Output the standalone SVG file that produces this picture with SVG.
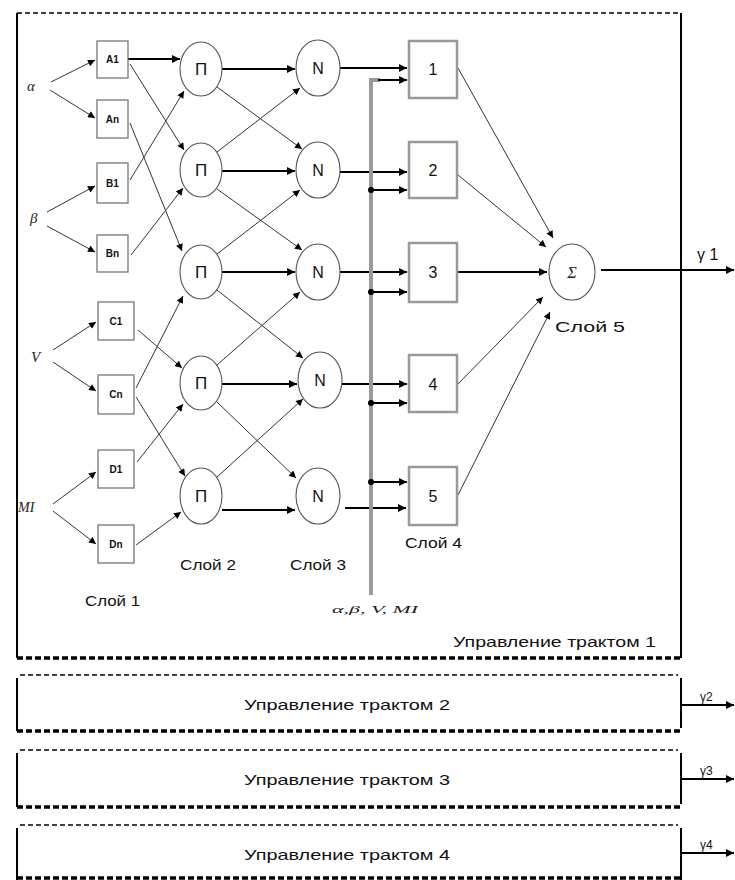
<svg xmlns="http://www.w3.org/2000/svg" width="735" height="880" viewBox="0 0 735 880">
<style>
.t{font-family:"Liberation Sans",Arial,sans-serif;fill:#111}
.g{font-family:"Liberation Serif","Times New Roman",serif;font-style:italic;fill:#222}
.thin{stroke:#333;stroke-width:1;fill:none}
.bold{stroke:#000;stroke-width:2;fill:none}
.dash{stroke:#000;stroke-width:1.5;stroke-dasharray:5 3;fill:none}
.dot{stroke:#000;stroke-width:3.5;stroke-dasharray:6 3;fill:none}
.side{stroke:#000;stroke-width:2;fill:none}
.b1{fill:#fff;stroke:#777;stroke-width:1.3}
.b4{fill:#fff;stroke:#999;stroke-width:2.5}
.c{fill:#fff;stroke:#555;stroke-width:1.1}
</style>
<defs>
<marker id="ah" viewBox="0 0 10 10" refX="10" refY="5" markerWidth="9" markerHeight="7" markerUnits="userSpaceOnUse" orient="auto"><path d="M0,0 L10,5 L0,10 z" fill="#000"/></marker>
<marker id="ahb" viewBox="0 0 10 10" refX="10" refY="5" markerWidth="11" markerHeight="8" markerUnits="userSpaceOnUse" orient="auto"><path d="M0,0 L10,5 L0,10 z" fill="#000"/></marker>
</defs>
<rect width="735" height="880" fill="#fff"/>

<!-- frames -->
<g id="frame1">
<line class="dash" x1="17" y1="13" x2="681" y2="13"/>
<line class="side" x1="17" y1="13" x2="17" y2="658"/>
<line class="side" x1="681" y1="13" x2="681" y2="658"/>
<line class="dot" x1="17" y1="658" x2="681" y2="658"/>
<text class="t" x="453" y="647" font-size="15" textLength="203" lengthAdjust="spacingAndGlyphs">Управление трактом 1</text>
</g>
<g id="frame2">
<line class="dash" x1="20" y1="675" x2="678" y2="675"/>
<line class="side" x1="17" y1="678" x2="17" y2="731"/>
<line class="side" x1="681" y1="678" x2="681" y2="728"/>
<line class="dot" x1="17" y1="731" x2="681" y2="731"/>
<text class="t" x="244" y="710" font-size="15" textLength="206" lengthAdjust="spacingAndGlyphs">Управление трактом 2</text>
</g>
<g id="frame3">
<line class="dash" x1="20" y1="750" x2="678" y2="750"/>
<line class="side" x1="17" y1="753" x2="17" y2="807"/>
<line class="side" x1="681" y1="753" x2="681" y2="804"/>
<line class="dot" x1="17" y1="807" x2="681" y2="807"/>
<text class="t" x="244" y="785" font-size="15" textLength="206" lengthAdjust="spacingAndGlyphs">Управление трактом 3</text>
</g>
<g id="frame4">
<line class="dash" x1="20" y1="825" x2="678" y2="825"/>
<line class="side" x1="17" y1="828" x2="17" y2="880"/>
<line class="side" x1="681" y1="828" x2="681" y2="880"/>
<line class="dot" x1="17" y1="878" x2="681" y2="878"/>
<text class="t" x="244" y="860" font-size="15" textLength="206" lengthAdjust="spacingAndGlyphs">Управление трактом 4</text>
</g>

<!-- connectors -->
<g id="connectors">
<line class="thin" x1="51" y1="82" x2="95" y2="60" marker-end="url(#ah)"/>
<line class="thin" x1="50" y1="90" x2="95" y2="118" marker-end="url(#ah)"/>
<line class="thin" x1="47" y1="212" x2="95" y2="186" marker-end="url(#ah)"/>
<line class="thin" x1="47" y1="226" x2="95" y2="252" marker-end="url(#ah)"/>
<line class="thin" x1="53" y1="350" x2="96" y2="322" marker-end="url(#ah)"/>
<line class="thin" x1="53" y1="362" x2="96" y2="391" marker-end="url(#ah)"/>
<line class="thin" x1="53" y1="504" x2="96" y2="472" marker-end="url(#ah)"/>
<line class="thin" x1="53" y1="511" x2="96" y2="544" marker-end="url(#ah)"/>
<line class="bold" x1="128" y1="59" x2="180" y2="59" marker-end="url(#ahb)"/>
<line class="thin" x1="130" y1="64" x2="184" y2="150" marker-end="url(#ah)"/>
<line class="thin" x1="130" y1="123" x2="182" y2="251" marker-end="url(#ah)"/>
<line class="thin" x1="130" y1="180" x2="184" y2="91" marker-end="url(#ah)"/>
<line class="thin" x1="131" y1="255" x2="183" y2="188" marker-end="url(#ah)"/>
<line class="thin" x1="136" y1="388" x2="183" y2="296" marker-end="url(#ah)"/>
<line class="thin" x1="138" y1="330" x2="182" y2="368" marker-end="url(#ah)"/>
<line class="thin" x1="136" y1="397" x2="185" y2="476" marker-end="url(#ah)"/>
<line class="thin" x1="137" y1="462" x2="183" y2="404" marker-end="url(#ah)"/>
<line class="thin" x1="136" y1="545" x2="181" y2="512" marker-end="url(#ah)"/>
<line class="bold" x1="222" y1="69" x2="295" y2="69" marker-end="url(#ahb)"/>
<line class="bold" x1="222" y1="171" x2="295" y2="171" marker-end="url(#ahb)"/>
<line class="bold" x1="222" y1="272" x2="295" y2="272" marker-end="url(#ahb)"/>
<line class="bold" x1="222" y1="384" x2="297" y2="384" marker-end="url(#ahb)"/>
<line class="bold" x1="222" y1="510" x2="295" y2="510" marker-end="url(#ahb)"/>
<line class="thin" x1="217" y1="87" x2="302" y2="149" marker-end="url(#ah)"/>
<line class="thin" x1="217" y1="152" x2="300" y2="88" marker-end="url(#ah)"/>
<line class="thin" x1="217" y1="189" x2="302" y2="250" marker-end="url(#ah)"/>
<line class="thin" x1="217" y1="254" x2="300" y2="190" marker-end="url(#ah)"/>
<line class="thin" x1="217" y1="290" x2="303" y2="358" marker-end="url(#ah)"/>
<line class="thin" x1="217" y1="365" x2="300" y2="292" marker-end="url(#ah)"/>
<line class="thin" x1="217" y1="402" x2="296" y2="478" marker-end="url(#ah)"/>
<line class="thin" x1="217" y1="477" x2="303" y2="399" marker-end="url(#ah)"/>
<line class="bold" x1="340" y1="68" x2="407" y2="68" marker-end="url(#ahb)"/>
<line class="bold" x1="340" y1="172" x2="407" y2="172" marker-end="url(#ahb)"/>
<line class="bold" x1="340" y1="272" x2="407" y2="272" marker-end="url(#ahb)"/>
<line class="bold" x1="342" y1="384" x2="407" y2="384" marker-end="url(#ahb)"/>
<line class="bold" x1="345" y1="508" x2="406" y2="508" marker-end="url(#ahb)"/>
<polyline points="371,595 371,80 380,80" fill="none" stroke="#9a9a9a" stroke-width="4"/>
<line class="bold" x1="378" y1="80" x2="407" y2="80" marker-end="url(#ahb)"/>
<line class="bold" x1="371" y1="190" x2="407" y2="190" marker-end="url(#ahb)"/>
<line class="bold" x1="371" y1="292" x2="407" y2="292" marker-end="url(#ahb)"/>
<line class="bold" x1="371" y1="403" x2="407" y2="403" marker-end="url(#ahb)"/>
<line class="bold" x1="371" y1="482" x2="407" y2="482" marker-end="url(#ahb)"/>
<circle cx="371" cy="190" r="3" fill="#000"/>
<circle cx="371" cy="292" r="3" fill="#000"/>
<circle cx="371" cy="403" r="3" fill="#000"/>
<circle cx="371" cy="482" r="3" fill="#000"/>
<line class="thin" x1="458" y1="68" x2="553" y2="238" marker-end="url(#ah)"/>
<line class="thin" x1="458" y1="175" x2="546" y2="247" marker-end="url(#ah)"/>
<line class="bold" x1="458" y1="272" x2="547" y2="272" marker-end="url(#ahb)"/>
<line class="thin" x1="458" y1="384" x2="543" y2="297" marker-end="url(#ah)"/>
<line class="thin" x1="458" y1="495" x2="550" y2="312" marker-end="url(#ah)"/>
<line class="bold" x1="601" y1="270" x2="734" y2="270" marker-end="url(#ahb)"/>
<line class="bold" x1="681" y1="705" x2="734" y2="705" marker-end="url(#ahb)"/>
<line class="bold" x1="681" y1="779" x2="734" y2="779" marker-end="url(#ahb)"/>
<line class="bold" x1="681" y1="853" x2="734" y2="853" marker-end="url(#ahb)"/>
</g>

<g id="inputs">
<text class="g" x="27" y="91" font-size="15">α</text>
<text class="g" x="30" y="223" font-size="15">β</text>
<text class="g" x="31" y="362" font-size="15">V</text>
<text class="g" x="18" y="512" font-size="14">MI</text>
<text class="g" x="332" y="613" font-size="11" textLength="86" lengthAdjust="spacingAndGlyphs">α,β, V, MI</text>
</g>

<g id="A1"><rect class="b1" x="97" y="41" width="31" height="37"/><text class="t" x="112.5" y="63" font-size="10" font-weight="bold" text-anchor="middle">A1</text></g>
<g id="An"><rect class="b1" x="97" y="100" width="31" height="38"/><text class="t" x="112.5" y="123" font-size="10" font-weight="bold" text-anchor="middle">An</text></g>
<g id="B1"><rect class="b1" x="97" y="163" width="31" height="40"/><text class="t" x="112.5" y="187" font-size="10" font-weight="bold" text-anchor="middle">B1</text></g>
<g id="Bn"><rect class="b1" x="97" y="235" width="31" height="37"/><text class="t" x="112.5" y="257" font-size="10" font-weight="bold" text-anchor="middle">Bn</text></g>
<g id="C1"><rect class="b1" x="98" y="302" width="36" height="38"/><text class="t" x="116" y="325" font-size="10" font-weight="bold" text-anchor="middle">C1</text></g>
<g id="Cn"><rect class="b1" x="98" y="375" width="36" height="39"/><text class="t" x="116" y="398" font-size="10" font-weight="bold" text-anchor="middle">Cn</text></g>
<g id="D1"><rect class="b1" x="98" y="450" width="36" height="38"/><text class="t" x="116" y="473" font-size="10" font-weight="bold" text-anchor="middle">D1</text></g>
<g id="Dn"><rect class="b1" x="98" y="525" width="36" height="38"/><text class="t" x="116" y="548" font-size="10" font-weight="bold" text-anchor="middle">Dn</text></g>

<g id="P1"><ellipse class="c" cx="201" cy="69" rx="21" ry="27"/><text class="t" x="201" y="75" font-size="17" text-anchor="middle">П</text></g>
<g id="P2"><ellipse class="c" cx="201" cy="170" rx="21" ry="27"/><text class="t" x="201" y="176" font-size="17" text-anchor="middle">П</text></g>
<g id="P3"><ellipse class="c" cx="201" cy="272" rx="21" ry="27"/><text class="t" x="201" y="278" font-size="17" text-anchor="middle">П</text></g>
<g id="P4"><ellipse class="c" cx="201" cy="383" rx="21" ry="27"/><text class="t" x="201" y="389" font-size="17" text-anchor="middle">П</text></g>
<g id="P5"><ellipse class="c" cx="201" cy="496" rx="21" ry="28"/><text class="t" x="201" y="502" font-size="17" text-anchor="middle">П</text></g>

<g id="N1"><ellipse class="c" cx="318" cy="68" rx="22" ry="28"/><text class="t" x="318" y="74" font-size="16" text-anchor="middle">N</text></g>
<g id="N2"><ellipse class="c" cx="318" cy="170" rx="22" ry="28"/><text class="t" x="318" y="176" font-size="16" text-anchor="middle">N</text></g>
<g id="N3"><ellipse class="c" cx="318" cy="272" rx="22" ry="28"/><text class="t" x="318" y="278" font-size="16" text-anchor="middle">N</text></g>
<g id="N4"><ellipse class="c" cx="320" cy="380" rx="22" ry="28"/><text class="t" x="320" y="386" font-size="16" text-anchor="middle">N</text></g>
<g id="N5"><ellipse class="c" cx="318" cy="496" rx="22" ry="28"/><text class="t" x="318" y="502" font-size="16" text-anchor="middle">N</text></g>

<g id="R1"><rect class="b4" x="409" y="41" width="48" height="57"/><text class="t" x="433" y="75" font-size="16" text-anchor="middle">1</text></g>
<g id="R2"><rect class="b4" x="409" y="142" width="48" height="56"/><text class="t" x="433" y="176" font-size="16" text-anchor="middle">2</text></g>
<g id="R3"><rect class="b4" x="409" y="243" width="48" height="59"/><text class="t" x="433" y="278" font-size="16" text-anchor="middle">3</text></g>
<g id="R4"><rect class="b4" x="409" y="355" width="48" height="57"/><text class="t" x="433" y="390" font-size="16" text-anchor="middle">4</text></g>
<g id="R5"><rect class="b4" x="409" y="467" width="48" height="58"/><text class="t" x="433" y="502" font-size="16" text-anchor="middle">5</text></g>

<g id="S"><ellipse class="c" cx="572" cy="272" rx="23" ry="28"/><text class="g" x="572" y="278" font-size="16" font-style="normal" text-anchor="middle">Σ</text></g>

<g id="labels">
<text class="t" x="85" y="606" font-size="15" textLength="55" lengthAdjust="spacingAndGlyphs">Слой 1</text>
<text class="t" x="180" y="570" font-size="15" textLength="56" lengthAdjust="spacingAndGlyphs">Слой 2</text>
<text class="t" x="290" y="570" font-size="15" textLength="56" lengthAdjust="spacingAndGlyphs">Слой 3</text>
<text class="t" x="405" y="548" font-size="15" textLength="57" lengthAdjust="spacingAndGlyphs">Слой 4</text>
<text class="t" x="555" y="332" font-size="15" textLength="70" lengthAdjust="spacingAndGlyphs">Слой 5</text>
<text class="t" x="697" y="260" font-size="16">γ 1</text>
<text class="t" x="700" y="701" font-size="12">γ2</text>
<text class="t" x="700" y="775" font-size="12">γ3</text>
<text class="t" x="700" y="849" font-size="12">γ4</text>
</g>
</svg>
